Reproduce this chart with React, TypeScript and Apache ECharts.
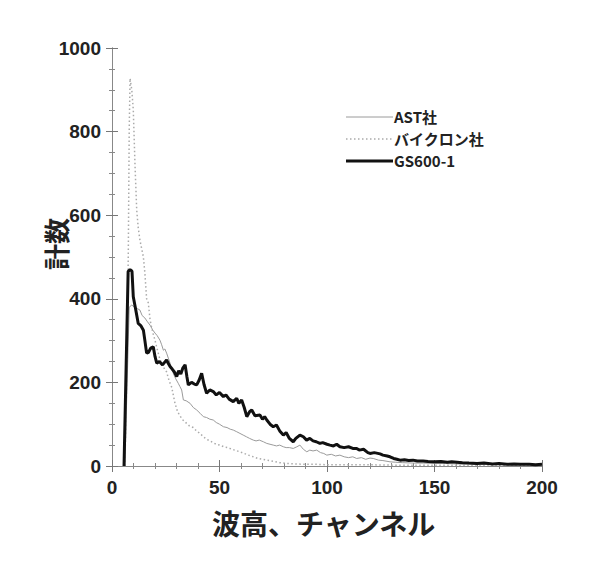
import React, { useEffect, useRef } from "react";
import * as echarts from "echarts";

const seriesNames = ["AST社", "バイクロン社", "GS600-1"];

const astData: [number, number][] = [
  [6, 0], [8, 380], [9.2, 385], [10.5, 380], [12, 376], [13, 373], [14, 360], [15.3, 354], [16.5, 345], [17.7, 337],
  [19, 325], [20, 318], [21, 312], [22.3, 301], [23.1, 290], [23.9, 277], [24.6, 280], [25.4, 270], [26.2, 258], [27, 246],
  [27.8, 232], [28.5, 222], [29.5, 210], [30.8, 198], [31.6, 190], [32.4, 182], [33.2, 158], [34.5, 156], [36.3, 150], [37.8, 140],
  [39.4, 134], [41, 126], [42.5, 118], [44, 116], [45.5, 112], [47.1, 110], [48.5, 104], [50, 100], [51.8, 94], [53.5, 92],
  [55, 88], [56.4, 86], [58, 82], [59.5, 78], [61, 74], [62.5, 70], [64, 66], [65.7, 62], [67, 60], [68.5, 62],
  [70.4, 58], [72, 54], [73.5, 52], [75, 50], [76.5, 48], [78, 50], [79.7, 46], [81, 44], [82.5, 44], [84.3, 42],
  [86, 46], [87.4, 50], [89, 40], [90.6, 34], [92, 38], [93.5, 36], [95.2, 38], [97, 32], [98.5, 30], [99.9, 26],
  [102, 28], [104, 24], [106, 26], [108, 22], [110, 20], [112, 22], [113.8, 18], [116, 20], [118, 16], [120, 19],
  [121.5, 18], [124, 14], [126, 13], [129.3, 10], [132, 9], [135, 8], [140, 7], [145, 7], [150, 6], [155, 6],
  [160, 5], [165, 5], [170, 4], [175, 4], [180, 4], [185, 3], [190, 3], [195, 3], [200, 3],
];

const baikuronData: [number, number][] = [
  [6, 0], [7, 250], [7.6, 520], [8, 800], [8.4, 927], [9.2, 900], [9.9, 852], [10.7, 720], [11.5, 612], [12.2, 570],
  [13, 540], [13.8, 520], [14.6, 500], [15.3, 461], [16.1, 400], [16.9, 390], [17.7, 350], [18.5, 330], [19.2, 315], [20, 301],
  [21, 280], [22.3, 255], [23.5, 240], [24.5, 232], [25.4, 225], [26.5, 205], [27.8, 188], [28.5, 170], [29.3, 150], [30.5, 130],
  [31.6, 120], [33, 110], [34.7, 102], [36, 96], [37.8, 92], [39.3, 84], [40.9, 78], [42.5, 70], [44, 64], [45.6, 60],
  [47, 56], [48.5, 52], [50.2, 50], [52, 46], [54, 44], [54.9, 42], [57, 38], [59.5, 34], [61.5, 30], [63.5, 26],
  [65.7, 22], [68, 18], [70, 16], [72, 14], [75, 11], [78, 8], [81.3, 6], [85, 5], [90, 4], [95, 4],
  [100, 3], [110, 3], [120, 3], [130, 2], [140, 2], [150, 2], [160, 2], [170, 2], [180, 2], [190, 2], [200, 2],
];

const gsData: [number, number][] = [
  [5.6, 0], [7.5, 465], [8.4, 470], [9.3, 466], [9.9, 405], [11, 375], [12.2, 341], [13.5, 335], [14.6, 325], [15.3, 300],
  [16.1, 270], [17, 272], [18, 282], [19.2, 285], [20, 262], [20.8, 246], [22, 250], [23.5, 242], [25.4, 254], [26.2, 245],
  [27, 238], [28, 232], [29, 225], [30.1, 214], [31, 228], [32, 220], [33, 235], [34, 242], [34.8, 215], [35.5, 194],
  [37, 200], [38.3, 196], [39.4, 194], [40.5, 205], [41.7, 222], [42.8, 195], [44, 174], [45.5, 182], [47.1, 178], [48.5, 170],
  [50, 176], [51.8, 166], [53, 170], [54.5, 160], [56.4, 154], [58, 162], [59, 150], [60.3, 158], [61.5, 140], [62.7, 118],
  [64, 130], [65, 134], [66.5, 120], [68.8, 122], [70, 112], [71, 118], [72, 110], [73.5, 100], [75, 94], [76.5, 98],
  [78, 84], [79.7, 74], [81, 80], [82.5, 66], [84.3, 58], [85.5, 66], [87.4, 74], [89, 70], [90.5, 62], [92, 66],
  [93.5, 60], [95, 58], [96.7, 54], [98, 56], [100, 52], [101.4, 50], [103, 48], [104.5, 52], [106, 46], [108, 44],
  [110, 46], [112, 42], [113.8, 42], [115, 38], [117, 40], [119, 32], [120, 30], [122, 32], [124.7, 29], [126, 26],
  [128, 24], [129.3, 22], [131, 18], [132.5, 16], [134, 14], [136, 15], [138, 13], [140, 14], [142, 12], [144.7, 12],
  [147, 11], [150, 10], [153, 11], [156, 9], [158, 10], [160.5, 9], [163, 8], [166, 7], [169.8, 6], [173, 7],
  [177, 5], [180, 6], [183.7, 4], [187, 5], [190, 4], [194, 4], [197, 3], [200, 4],
];

const xTitle = "波高、チャンネル";
const yTitle = "計数";

const numFont = "'Liberation Sans', Arial, sans-serif";
const cjkFont = "'Noto Sans CJK JP', 'Noto Sans', sans-serif";

const lineStyles = [
  { stroke: "#9a9a9a", lineWidth: 1 },
  { stroke: "#aaa", lineWidth: 1.5, lineDash: [1.5, 2.5] },
  { stroke: "#111", lineWidth: 3 },
];

export default function App() {
  const ref = useRef<HTMLDivElement>(null);
  useEffect(() => {
    if (!ref.current) return;
    const chart = echarts.init(ref.current, undefined, { renderer: "svg" });
    const axisLine = { show: true, lineStyle: { color: "#888", width: 1 } };
    const tickCommon = { show: true, inside: true, length: 6, lineStyle: { color: "#777" } };
    const minorCommon = { show: true, length: 3, lineStyle: { color: "#888" } };
    const xBase = { type: "value" as const, min: 0, max: 200, interval: 50, splitLine: { show: false }, minorSplitLine: { show: false }, axisLine, axisTick: tickCommon };
    const yBase = { type: "value" as const, min: 0, max: 1000, interval: 200, splitLine: { show: false }, minorSplitLine: { show: false }, axisLine, axisTick: tickCommon };

    const legendRowsY = [116, 138, 160];
    const legendGraphics: any[] = [];
    seriesNames.forEach((name, i) => {
      const ly = legendRowsY[i] + 1;
      legendGraphics.push({
        type: "line",
        shape: { x1: 346, y1: ly, x2: 393, y2: ly },
        style: { ...lineStyles[i] },
        z: 10,
      });
      legendGraphics.push({
        type: "text",
        x: 394,
        y: legendRowsY[i],
        style: {
          text: name,
          fontFamily: cjkFont,
          fontSize: 15,
          fontWeight: "bold",
          fill: "#222",
          verticalAlign: "middle",
          align: "left",
        },
        z: 10,
      });
    });

    chart.setOption({
      animation: false,
      backgroundColor: "#fff",
      grid: { left: 112, top: 48, right: 62, bottom: 106, containLabel: false },
      xAxis: [
        {
          ...xBase,
          position: "bottom",
          minorTick: { ...minorCommon, splitNumber: 5 },
          axisLabel: { show: true, margin: 12, fontFamily: numFont, fontWeight: "bold", fontSize: 19, color: "#222" },
        },
        {
          ...xBase,
          position: "top",
          minorTick: { ...minorCommon, splitNumber: 5 },
          axisLabel: { show: false },
        },
      ],
      yAxis: [
        {
          ...yBase,
          position: "left",
          minorTick: { ...minorCommon, splitNumber: 4 },
          axisLabel: {
            show: true,
            margin: 11,
            fontFamily: numFont,
            fontWeight: "bold",
            fontSize: 19,
            color: "#222",
            formatter: (v: number) => String(v),
          },
        },
        {
          ...yBase,
          position: "right",
          minorTick: { ...minorCommon, splitNumber: 4 },
          axisLabel: { show: false },
        },
      ],
      graphic: [
        {
          type: "text",
          x: 212,
          y: 509,
          style: { text: xTitle, fontFamily: cjkFont, fontSize: 28, fontWeight: "bold", fill: "#222" },
        },
        {
          type: "text",
          x: 42,
          y: 270,
          rotation: Math.PI / 2,
          style: { text: yTitle, fontFamily: cjkFont, fontSize: 26, fontWeight: "bold", fill: "#222" },
        },
        ...legendGraphics,
      ],
      series: [
        {
          name: seriesNames[0],
          type: "line",
          data: astData,
          symbol: "none",
          lineStyle: { color: "#9a9a9a", width: 1 },
          itemStyle: { color: "#9a9a9a" },
        },
        {
          name: seriesNames[1],
          type: "line",
          data: baikuronData,
          symbol: "none",
          lineStyle: { color: "#aaa", width: 1.5, type: [1.5, 2.5] },
          itemStyle: { color: "#aaa" },
        },
        {
          name: seriesNames[2],
          type: "line",
          data: gsData,
          symbol: "none",
          lineStyle: { color: "#111", width: 3 },
          itemStyle: { color: "#111" },
        },
      ],
    });
    return () => chart.dispose();
  }, []);
  return <div ref={ref} style={{ width: 604, height: 572, position: "absolute", left: 0, top: 0 }} />;
}
